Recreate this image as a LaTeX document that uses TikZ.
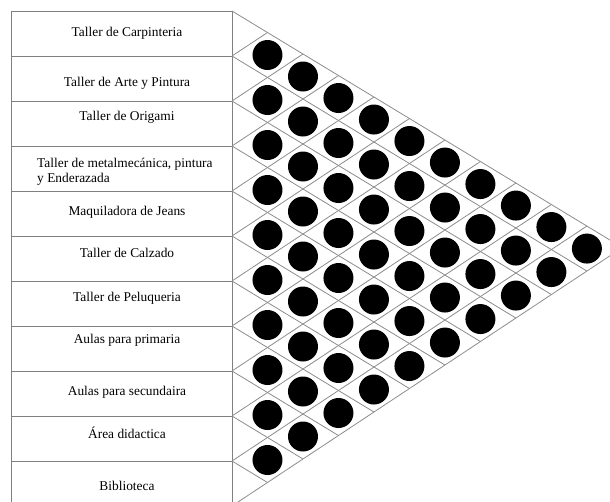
\documentclass[tikz,border=0pt]{standalone}
\usepackage{fontspec}
\setmainfont{Liberation Serif}
\begin{document}
\begin{tikzpicture}[x=1pt,y=-1pt,
  tbl/.style={draw={rgb,255:red,128;green,128;blue,128}, line width=0.9pt},
  grd/.style={draw={rgb,255:red,140;green,140;blue,140}, line width=0.8pt},
  lbl/.style={font=\fontsize{13.4}{15}\selectfont, inner sep=0pt},
  dot/.style={circle, fill=black, minimum size=30pt, inner sep=0pt}]
\useasboundingbox (0,0) rectangle (610,502);
\clip (0,0) rectangle (610,502);
% table frame
\coordinate (tl) at (11,11);
\coordinate (tr) at (232,11);
\coordinate (bl) at (11,506);
\coordinate (br) at (232,506);
\draw[tbl] (tl) -- (bl);
\draw[tbl] (tr) -- (br);
\foreach \k in {0,...,11}{
  \pgfmathsetmacro\by{11+45*\k}
  \coordinate (L\k) at (11,\by);
  \coordinate (R\k) at (232,\by);
  \draw[tbl] (L\k) -- (R\k);
}
% diagonal grid
\foreach \k in {0,...,11}{
  \pgfmathsetmacro\by{11+45*\k}
  \pgfmathsetmacro\dd{(506-\by)/1.268}
  \pgfmathsetmacro\du{(\by-11)/1.268}
  \draw[grd] (R\k) -- ++(\dd, 0.606*\dd);
  \draw[grd] (R\k) -- ++(\du, -0.662*\du);
}
% dots
\foreach \i in {1,...,10}{
  \pgfmathtruncatemacro\jstart{\i+1}
  \foreach \j in {\jstart,...,11}{
    \pgfmathsetmacro\dx{45*(\j-\i)/1.268}
    \pgfmathsetmacro\cy{33.5+45*(\i-1)+0.606*\dx}
    \node[dot] (d\i-\j) at (232+\dx,\cy) {};
  }
}
% labels
\node[lbl] (r1) at (127,33) {Taller de Carpinteria};
\node[lbl] (r2) at (127,83) {Taller de Arte y Pintura};
\node[lbl] (r3) at (127,117) {Taller de Origami};
\node[lbl, anchor=west, align=left] (r4) at (37,171.5) {Taller de metalmecánica, pintura\\y Enderazada};
\node[lbl] (r5) at (127,212) {Maquiladora de Jeans};
\node[lbl] (r6) at (127,253) {Taller de Calzado};
\node[lbl] (r7) at (127,298) {Taller de Peluqueria};
\node[lbl] (r8) at (127,340) {Aulas para primaria};
\node[lbl] (r9) at (127,392) {Aulas para secundaira};
\node[lbl] (r10) at (127,433) {Área didactica};
\node[lbl] (r11) at (127,486) {Biblioteca};
\end{tikzpicture}
\end{document}
